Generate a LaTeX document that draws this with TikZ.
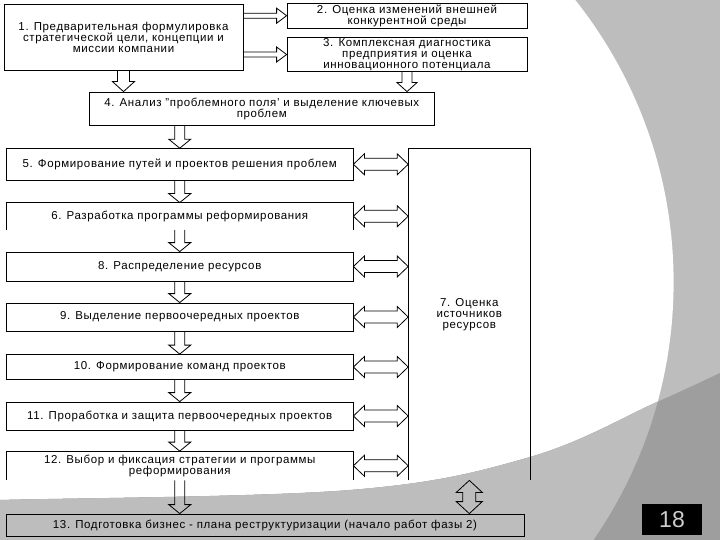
\documentclass[tikz,border=0pt]{standalone}
\usepackage{fontspec}
\setmainfont{Liberation Sans}[LetterSpace=5.5]
\newfontfamily\pagenumfont{Liberation Sans}
\usetikzlibrary{calc}
\definecolor{slideGray}{RGB}{189,189,189}
\definecolor{slideDark}{RGB}{158,158,158}
\definecolor{pageGray}{RGB}{205,205,205}

\tikzset{
  stagebox/.style={draw, line width=0.8pt, inner sep=1pt, align=center,
    font=\fontsize{11.5}{11}\selectfont},
  openbox/.style={stagebox, draw=none},
  boxline/.style={line width=0.8pt},
  hollow/.style={draw, line width=0.8pt, line join=miter}
}

% #1 from, #2 to, #3 half shaft, #4 half head, #5 head length
\newcommand{\blockarrow}[5]{
  \coordinate (ba-s) at (#1);
  \coordinate (ba-e) at (#2);
  \coordinate (ba-h) at ($(ba-e)!#5!(ba-s)$);
  \draw[hollow] ($(ba-s)!#3!90:(ba-e)$) -- ($(ba-h)!#3!90:(ba-e)$) -- ($(ba-h)!#4!90:(ba-e)$)
    -- (ba-e) -- ($(ba-h)!#4!-90:(ba-e)$) -- ($(ba-h)!#3!-90:(ba-e)$) -- ($(ba-s)!#3!-90:(ba-e)$);
}
\newcommand{\doublearrow}[5]{
  \coordinate (da-s) at (#1);
  \coordinate (da-e) at (#2);
  \coordinate (da-h) at ($(da-s)!#5!(da-e)$);
  \coordinate (da-k) at ($(da-e)!#5!(da-s)$);
  \draw[hollow] (da-s) -- ($(da-h)!#4!90:(da-e)$) -- ($(da-h)!#3!90:(da-e)$) -- ($(da-k)!#3!90:(da-e)$)
    -- ($(da-k)!#4!90:(da-e)$) -- (da-e) -- ($(da-k)!#4!-90:(da-e)$) -- ($(da-k)!#3!-90:(da-e)$)
    -- ($(da-h)!#3!-90:(da-e)$) -- ($(da-h)!#4!-90:(da-e)$) -- cycle;
}

\begin{document}
\begin{tikzpicture}[x=1pt, y=-1pt]
  \useasboundingbox (0,0) rectangle (720,540);
  \fill[slideGray] (0,0) rectangle (720,540);
  \begin{scope}
    \clip (219.6,282.2) circle[radius=454pt];
    \fill[white] plot[smooth, tension=0.6] coordinates {(-10,501) (0,500) (350,490) (530,457) (657,402) (720,373) (730,368)}
      -- (730,-10) -- (-10,-10) -- cycle;
  \end{scope}
  \begin{scope}
    \clip plot[smooth, tension=0.6] coordinates {(-10,501) (0,500) (350,490) (530,457) (657,402) (720,373) (730,368)}
      -- (730,550) -- (-10,550) -- cycle;
    \fill[slideDark] (0,0) rectangle (720,540);
    \fill[slideGray] (219.6,282.2) circle[radius=454pt];
  \end{scope}

  \node[stagebox, minimum width=239pt, minimum height=66pt] (b1) at (123.5,37)
    {1. Предварительная формулировка\\стратегической цели, концепции и\\миссии компании};
  \node[stagebox, minimum width=240pt, minimum height=24.6pt] (b2) at (407,15.7)
    {2. Оценка изменений внешней\\конкурентной среды};
  \node[stagebox, minimum width=240pt, minimum height=32pt] (b3) at (407,54.5)
    {3. Комплексная диагностика\\предприятия и оценка\\инновационного потенциала};
  \node[stagebox, minimum width=344.5pt, minimum height=33pt] (b4) at (261.75,108.5)
    {4. Анализ "проблемного поля' и выделение ключевых\\проблем};
  \node[stagebox, minimum width=346.5pt, minimum height=31.4pt] (b5) at (179.75,164.3)
    {5. Формирование путей и проектов решения проблем};
  \node[openbox, minimum width=346.5pt, minimum height=26.5pt] (b6) at (179.75,216.25)
    {6. Разработка программы реформирования};
  \node[stagebox, minimum width=346.5pt, minimum height=29pt] (b8) at (179.75,266.5)
    {8. Распределение ресурсов};
  \node[stagebox, minimum width=346.5pt, minimum height=28pt] (b9) at (179.75,317)
    {9. Выделение первоочередных проектов};
  \node[stagebox, minimum width=346.5pt, minimum height=25pt] (b10) at (179.75,367)
    {10. Формирование команд проектов};
  \node[stagebox, minimum width=346.5pt, minimum height=28pt] (b11) at (179.75,416)
    {11. Проработка и защита первоочередных проектов};
  \node[openbox, minimum width=346.5pt, minimum height=28.5pt] (b12) at (179.75,465.75)
    {12. Выбор и фиксация стратегии и программы\\реформирования};
  \node[stagebox, minimum width=518pt, minimum height=22pt] (b13) at (265,525)
    {13. Подготовка бизнес - плана реструктуризации (начало работ фазы 2)};
  \node[openbox, minimum width=121.4pt, minimum height=331.4pt] (b7) at (469.3,314.3)
    {7. Оценка\\источников\\ресурсов};

  \draw[boxline] (b6.south west) -- (b6.north west) -- (b6.north east) -- (b6.south east);
  \draw[boxline] (b12.south west) -- (b12.north west) -- (b12.north east) -- (b12.south east);
  \draw[boxline] (b7.south west) -- (b7.north west) -- (b7.north east) -- (b7.south east);

  \blockarrow{b1.east |- b2.west}{b2.west}{2.5pt}{7.5pt}{10pt}
  \blockarrow{b1.east |- b3.west}{b3.west}{2.5pt}{7.5pt}{10pt}
  \blockarrow{b1.south}{b1.south |- b4.north}{6pt}{11pt}{10pt}
  \blockarrow{b3.south}{b3.south |- b4.north}{5pt}{10pt}{9pt}
  \blockarrow{b5.north |- b4.south}{b5.north}{5pt}{11pt}{9pt}
  \foreach \upper/\lower in {b5/b6, b6/b8, b8/b9, b9/b10, b10/b11, b11/b12}
    {\blockarrow{\upper.south}{\lower.north}{5pt}{11pt}{9pt}}
  \blockarrow{b12.south}{b12.south |- b13.north}{5pt}{11pt}{9pt}

  \foreach \stage in {b5, b6, b8, b9, b10, b11, b12}
    {\doublearrow{\stage.east}{\stage.east -| b7.west}{6pt}{10.5pt}{11pt}}
  \doublearrow{b7.south}{b7.south |- b13.north}{6.5pt}{13pt}{12pt}

  \node[fill=black, minimum width=60pt, minimum height=31pt, inner sep=0pt, text=pageGray,
    font=\pagenumfont\fontsize{23}{23}\selectfont] (page) at (672,519.5) {18};
\end{tikzpicture}
\end{document}
